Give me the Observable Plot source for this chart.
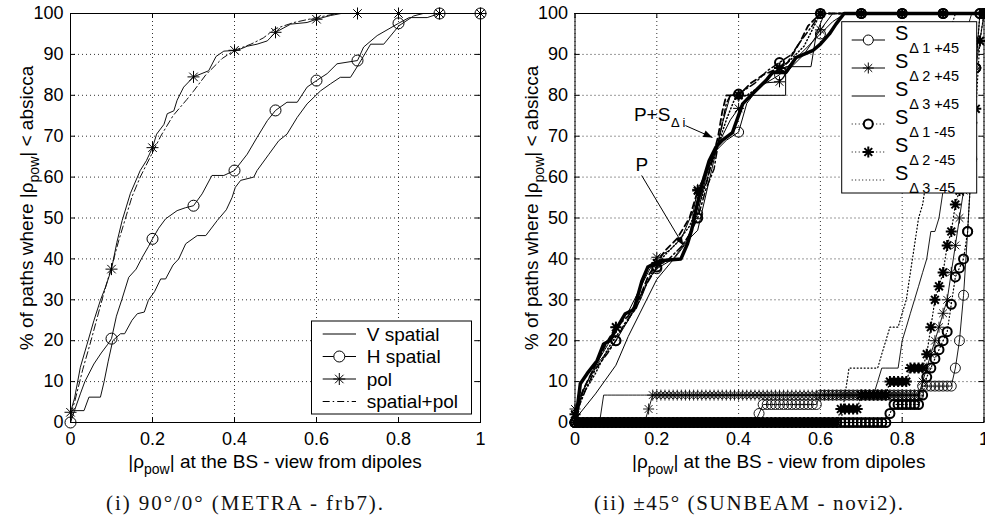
<!DOCTYPE html>
<html><head><meta charset="utf-8">
<script src="https://cdn.jsdelivr.net/npm/d3@7"></script>
<script src="https://cdn.jsdelivr.net/npm/@observablehq/plot@0.6"></script>
<style>
body{margin:0;background:#fff;}
#wrap{position:relative;width:985px;height:525px;overflow:hidden;background:#fff;}
#wrap svg{position:absolute;top:0;overflow:visible;}
</style></head><body><div id="wrap"></div>
<script>
// ================= DATA =================
const xTicks = [0, 0.2, 0.4, 0.6, 0.8, 1];
const yTicks = [0, 10, 20, 30, 40, 50, 60, 70, 80, 90, 100];
const markerRho = [0, 0.1, 0.2, 0.3, 0.4, 0.5, 0.6, 0.7, 0.8, 0.9, 1];

// ---- panel (i) ----
const vSpatial = [[0,0],[0.004,2.9],[0.033,2.9],[0.045,6.2],[0.073,6.2],[0.082,10],[0.092,15],[0.103,20],[0.122,21.7],[0.132,21.7],[0.15,25],[0.163,26.6],[0.18,27],[0.19,29.9],[0.205,32],[0.22,35.1],[0.232,35.1],[0.25,38.5],[0.264,40],[0.281,43.7],[0.309,45.7],[0.33,45.7],[0.358,49.4],[0.38,52],[0.394,55],[0.402,57.5],[0.415,59.2],[0.447,60],[0.455,61.6],[0.484,65.6],[0.508,68.9],[0.528,70.5],[0.553,74.6],[0.577,77.9],[0.61,81.1],[0.634,82.8],[0.658,84.4],[0.683,84.4],[0.703,87.6],[0.732,92.5],[0.764,92.5],[0.801,97],[0.837,99.4],[0.86,100],[1,100]];
const hSpatial = [[0,0],[0.01,3],[0.024,7],[0.035,10],[0.057,14.3],[0.075,17],[0.09,19],[0.1,20.5],[0.112,26],[0.125,30],[0.142,35.5],[0.16,37.5],[0.175,40.4],[0.19,43],[0.2,44.9],[0.215,47.5],[0.232,49.8],[0.26,51.8],[0.28,52.5],[0.3,53],[0.321,55.9],[0.345,60.4],[0.374,60.4],[0.4,61.6],[0.431,65.6],[0.455,69.7],[0.48,73.8],[0.5,76.3],[0.528,78.3],[0.553,78.3],[0.577,82],[0.6,83.6],[0.626,85.3],[0.65,87.7],[0.7,88.5],[0.715,91.8],[0.748,94.6],[0.8,97.6],[0.826,99],[0.87,99],[0.9,100],[1,100]];
const hSpatialMarks = [0, 20.5, 44.9, 53, 61.6, 76.3, 83.6, 88.5, 97.6, 100, 100];
const pol = [[0,2.5],[0.01,6],[0.024,13.5],[0.04,19],[0.057,24.9],[0.073,29.9],[0.085,33],[0.1,37.5],[0.113,44],[0.126,49.4],[0.146,56],[0.17,61.6],[0.185,64],[0.2,67.2],[0.21,70.5],[0.228,72.9],[0.236,75.5],[0.252,76.2],[0.26,78.8],[0.276,82],[0.3,84.5],[0.337,86],[0.355,89.5],[0.374,90.8],[0.407,91],[0.431,92],[0.455,92.5],[0.48,93.3],[0.5,95.4],[0.537,97.4],[0.577,97.8],[0.6,98.6],[0.634,99.5],[0.66,100],[1,100]];
const polMarks = [2.5, 37.5, 67.2, 84.5, 91, 95.4, 98.6, 100, 100, 100, 100];
const spatialPol = [[0,2],[0.01,5],[0.03,13],[0.05,20],[0.081,31.5],[0.1,38],[0.118,44.6],[0.15,55.2],[0.17,60],[0.195,65],[0.22,70],[0.25,75],[0.284,79],[0.3,81],[0.33,85],[0.37,89],[0.4,91],[0.44,92.5],[0.47,94],[0.5,96.3],[0.545,97.8],[0.6,99],[0.65,100],[1,100]];
const legendLeftLabels = ["V spatial", "H spatial", "pol", "spatial+pol"];

// ---- panel (ii) ----
const rhoGrid = [0,0.01,0.02,0.03,0.04,0.05,0.06,0.07,0.08,0.09,
 0.1,0.11,0.12,0.13,0.14,0.15,0.16,0.17,0.18,0.19,
 0.2,0.21,0.22,0.23,0.24,0.25,0.26,0.27,0.28,0.29,
 0.3,0.31,0.32,0.33,0.34,0.35,0.36,0.37,0.38,0.39,
 0.4,0.41,0.42,0.43,0.44,0.45,0.46,0.47,0.48,0.49,
 0.5,0.51,0.52,0.53,0.54,0.55,0.56,0.57,0.58,0.59,
 0.6,0.61,0.62,0.63,0.64,0.65,0.66,0.67,0.68,0.69,
 0.7,0.71,0.72,0.73,0.74,0.75,0.76,0.77,0.78,0.79,
 0.8,0.81,0.82,0.83,0.84,0.85,0.86,0.87,0.88,0.89,
 0.9,0.91,0.92,0.93,0.94,0.95,0.96,0.97,0.98,0.99,1];
const sD1p45 = [0,0,0,0,0,0,0,0,0,0, 0,0,0,0,0,0,0,0,0,0, 0,0,0,0,0,0,0,0,0,0, 0,0,0,0,0,0,0,0,0,0,
 0,0,0,0,0,2.2,4.4,4.4,4.4,4.4, 4.4,4.4,4.4,4.4,4.4,4.4,4.4,4.4,4.4,4.4,
 6.7,6.7,6.7,6.7,6.7,6.7,6.7,6.7,6.7,6.7, 6.7,6.7,6.7,6.7,6.7,6.7,6.7,6.7,6.7,6.7,
 6.7,6.7,6.7,6.7,6.7,8.9,8.9,8.9,8.9,8.9, 8.9,8.9,8.9,13.3,20,31.1,46.7,64.4,86.7,100, 100];
const sD2p45 = [0,0,0,0,0,0,0,0,0,0, 0,0,0,0,0,0,0,0,3.3,6.7,
 6.7,6.7,6.7,6.7,6.7,6.7,6.7,6.7,6.7,6.7, 6.7,6.7,6.7,6.7,6.7,6.7,6.7,6.7,6.7,6.7,
 6.7,6.7,6.7,6.7,6.7,6.7,6.7,6.7,6.7,6.7, 6.7,6.7,6.7,6.7,6.7,6.7,6.7,6.7,6.7,6.7,
 6.7,6.7,6.7,6.7,6.7,6.7,6.7,6.7,6.7,6.7, 6.7,6.7,6.7,6.7,6.7,6.7,6.7,6.7,6.7,6.7,
 6.7,6.7,6.7,6.7,6.7,10,13.3,16.7,20,23.3, 26.7,30,36.7,43.3,50,56.7,63.3,73.3,86.7,93.3, 100];
const sD3p45 = [0,0,0,0,0,0,0,6.7,6.7,6.7, 6.7,6.7,6.7,6.7,6.7,6.7,6.7,6.7,6.7,6.7,
 6.7,6.7,6.7,6.7,6.7,6.7,6.7,6.7,6.7,6.7, 6.7,6.7,6.7,6.7,6.7,6.7,6.7,6.7,6.7,6.7,
 6.7,6.7,6.7,6.7,6.7,6.7,6.7,6.7,6.7,6.7, 6.7,6.7,6.7,6.7,6.7,6.7,6.7,6.7,6.7,6.7,
 6.7,6.7,6.7,6.7,6.7,6.7,6.7,6.7,6.7,6.7, 6.7,6.7,6.7,6.7,10,13.3,13.3,13.3,13.3,13.3,
 20,23.3,26.7,30,33.3,36.7,40,46.7,46.7,50, 56.7,66.7,76.7,83.3,90,93.3,96.7,100,100,100, 100];
const sD1m45 = [0,0,0,0,0,0,0,0,0,0, 0,0,0,0,0,0,0,0,0,0, 0,0,0,0,0,0,0,0,0,0, 0,0,0,0,0,0,0,0,0,0,
 0,0,0,0,0,0,0,0,0,0, 0,0,0,0,0,0,0,0,0,0, 0,0,0,0,0,0,0,0,0,0,
 0,0,0,0,0,0,0,2.2,4.4,4.4, 4.4,4.4,4.4,4.4,4.4,6.7,11.1,13.3,15.6,17.8,
 20,22.2,28.9,35.6,37.8,40,46.7,64.4,86.7,100, 100];
const sD2m45 = [0,0,0,0,0,0,0,0,0,0, 0,0,0,0,0,0,0,0,0,0, 0,0,0,0,0,0,0,0,0,0, 0,0,0,0,0,0,0,0,0,0,
 0,0,0,0,0,0,0,0,0,0, 0,0,0,0,0,0,0,0,0,0, 0,0,0,0,0,3.3,3.3,3.3,3.3,3.3,
 6.7,6.7,6.7,6.7,6.7,6.7,6.7,10,10,10, 10,10,13.3,13.3,13.3,13.3,16.7,23.3,30,33.3,
 36.7,43.3,46.7,53.3,56.7,60,66.7,73.3,76.7,93.3, 100];
const sD3m45 = [0,0,0,0,0,0,0,0,0,0, 0,0,0,0,0,0,0,0,0,0, 0,0,0,0,0,0,0,0,0,0, 0,0,0,0,0,0,0,0,0,0,
 0,0,0,0,0,0,0,0,0,0, 0,0,0,0,0,0,0,0,0,0, 0,0,0,0,0,0,6.7,13.3,13.3,13.3,
 13.3,13.3,13.3,13.3,13.3,16.7,20,23.3,23.3,23.3, 26.7,30,36.7,43.3,50,53.3,60,66.7,73.3,80,
 86.7,93.3,96.7,100,100,100,100,100,100,100, 100];

const pOnly = [[0,0],[0.005,3],[0.013,9.5],[0.03,12],[0.054,15.1],[0.07,19.2],[0.085,20],[0.099,22.5],[0.123,26.6],[0.144,27.6],[0.164,34.7],[0.178,38],[0.193,38.8],[0.215,39.6],[0.259,40],[0.275,43.7],[0.285,47],[0.298,53],[0.31,58],[0.328,64],[0.345,67.4],[0.36,69],[0.385,70.9],[0.41,77.9],[0.434,80.4],[0.467,83.6],[0.483,85.6],[0.516,85.6],[0.54,89.2],[0.581,90.9],[0.6,92.5],[0.622,95],[0.638,97.4],[0.658,100],[1,100]];
const pS1p45 = [[0,0],[0.01,5],[0.03,10],[0.06,15],[0.1,20],[0.13,25],[0.16,30],[0.18,35],[0.2,37.6],[0.24,40],[0.27,44],[0.3,51],[0.32,60],[0.34,66],[0.37,69],[0.4,71],[0.42,78],[0.45,82],[0.5,85],[0.55,90],[0.58,93],[0.6,95],[0.63,98],[0.66,100],[1,100]];
const pS1p45Marks = [0, 20, 37.6, 51, 71, 85, 95, 100, 100, 100, 100];
const pS2p45 = [[0,3.3],[0.02,8],[0.05,14],[0.08,19],[0.1,23.3],[0.13,27],[0.16,33],[0.18,37],[0.2,40.4],[0.23,42],[0.26,45],[0.29,52],[0.3,57],[0.33,63],[0.36,70],[0.38,74],[0.4,76.8],[0.43,80],[0.46,83],[0.5,83.3],[0.53,87],[0.56,90],[0.6,96],[0.63,100],[1,100]];
const pS2p45Marks = [3.3, 23.3, 40.4, 57, 76.8, 83.3, 96, 100, 100, 100, 100];
const pS3p45 = [[0,0],[0.01,2],[0.05,7],[0.1,14],[0.13,21],[0.16,27],[0.2,35],[0.25,41],[0.28,45],[0.3,47],[0.33,60],[0.36,73],[0.38,80],[0.515,80],[0.515,87],[0.577,87],[0.59,95],[0.61,100],[1,100]];
const pS1m45 = [[0,0],[0.01,4],[0.03,9],[0.05,13],[0.08,17],[0.1,20],[0.12,24],[0.15,28],[0.17,33],[0.2,38],[0.23,40],[0.26,43],[0.28,46],[0.3,50],[0.32,57],[0.34,62],[0.35,68],[0.36,73],[0.37,78],[0.38,80],[0.41,81],[0.44,83],[0.47,86],[0.5,88],[0.53,90],[0.55,93],[0.58,97],[0.6,100],[1,100]];
const pS1m45Marks = [0, 20, 38, 50, 80.3, 88, 100, 100, 100, 100, 100];
const pS2m45 = [[0,2],[0.02,8],[0.05,14],[0.08,20],[0.1,23.3],[0.13,26],[0.16,31],[0.18,36],[0.2,39],[0.22,42],[0.25,45],[0.28,50],[0.3,56.7],[0.32,58],[0.33,62],[0.35,70],[0.36,76],[0.37,80],[0.4,80],[0.43,83],[0.46,85],[0.5,86.7],[0.52,88],[0.55,93],[0.57,97],[0.6,100],[1,100]];
const pS2m45Marks = [2, 23.3, 39, 56.7, 80, 86.7, 100, 100, 100, 100, 100];
const pS3m45 = [[0,1],[0.02,7],[0.05,12],[0.08,18],[0.1,21],[0.13,25],[0.16,31],[0.19,37],[0.22,41],[0.25,44],[0.28,48],[0.31,55],[0.33,62],[0.35,68],[0.37,74],[0.39,79],[0.42,80],[0.45,82],[0.48,85],[0.52,88],[0.56,92],[0.58,96],[0.6,100],[1,100]];

const annoLabels = [{label: "P+S", sub: "Δ i", x: 0.144, y: 73.8}, {label: "P", sub: "", x: 0.148, y: 61.6}];
const annoArrows = [{x1: 0.27, y1: 72.6, x2: 0.336, y2: 69.7}, {x1: 0.163, y1: 60.4, x2: 0.265, y2: 43.3}];
const legendRightIdx = ["1", "2", "3", "1", "2", "3"];
const legendRightPol = ["+45", "+45", "+45", "-45", "-45", "-45"];

const captionLeft = "(i) 90°/0° (METRA - frb7).";
const captionRight = "(ii) ±45° (SUNBEAM - novi2).";

// ================= HELPERS =================
const FONT = "'Liberation Sans', Arial, Helvetica, sans-serif";
const SERIF = "'Liberation Serif', 'Times New Roman', serif";
const asterisk8 = {draw(ctx, size) {
  const r = Math.sqrt(size / Math.PI), d = r * Math.SQRT1_2;
  ctx.moveTo(-r, 0); ctx.lineTo(r, 0); ctx.moveTo(0, -r); ctx.lineTo(0, r);
  ctx.moveTo(-d, -d); ctx.lineTo(d, d); ctx.moveTo(-d, d); ctx.lineTo(d, -d);
}};
function arrowHead(color) {
  const m = d3.create("svg:marker").attr("viewBox", "-10 -5 11 10").attr("markerWidth", 11).attr("markerHeight", 10)
    .attr("markerUnits", "userSpaceOnUse").attr("orient", "auto").attr("refX", 0).attr("refY", 0)
    .attr("fill", color).attr("stroke", "none");
  m.append("path").attr("d", "M-9,-3.5L0,0L-9,3.5Z");
  return m.node();
}
const tuples = a => a.map(([x, y]) => ({x, y}));
const atMarkers = ys => markerRho.map((x, i) => ({x, y: ys[i]}));
const onGrid = ys => rhoGrid.map((x, i) => ({x, y: ys[i]}));

function frameMarks(innerW, innerH) {
  return [
    Plot.ruleX(xTicks, {stroke: "#000", strokeOpacity: 0.8, strokeDasharray: "1,3"}),
    Plot.ruleY(yTicks, {stroke: "#000", strokeOpacity: 0.8, strokeDasharray: "1,3"}),
    Plot.ruleX(xTicks, {insetTop: innerH - 5, stroke: "#000"}),
    Plot.ruleX(xTicks, {insetBottom: innerH - 5, stroke: "#000"}),
    Plot.ruleY(yTicks, {insetRight: innerW - 5, stroke: "#000"}),
    Plot.ruleY(yTicks, {insetLeft: innerW - 5, stroke: "#000"})
  ];
}
function baseOpts(ml, mr) {
  return {
    width: 490, height: 525, marginLeft: ml, marginRight: mr, marginTop: 13, marginBottom: 103,
    style: {fontFamily: FONT, fontSize: "18px", color: "#000", background: "none", overflow: "visible"},
    x: {domain: [0, 1], ticks: xTicks, tickFormat: d3.format("~g"), tickSize: 0, tickPadding: 10, label: null},
    y: {domain: [0, 100], ticks: yTicks, tickFormat: d3.format("~g"), tickSize: 0, tickPadding: 7, label: null}
  };
}
function addTitles(svg, frameLeft, frameCenter, caption, capX, capLen) {
  const t = svg.append("text").attr("x", frameCenter).attr("y", 468).attr("text-anchor", "middle")
    .attr("font-family", FONT).attr("font-size", 19).attr("fill", "#000");
  t.append("tspan").text("|ρ");
  t.append("tspan").attr("font-size", 14).attr("dy", 6).text("pow");
  t.append("tspan").attr("dy", -6).text("| at the BS - view from dipoles");
  const y = svg.append("text").attr("transform", `translate(${frameLeft - 37},208) rotate(-90)`).attr("text-anchor", "middle")
    .attr("font-family", FONT).attr("font-size", 19).attr("fill", "#000");
  y.append("tspan").text("% of paths where |ρ");
  y.append("tspan").attr("font-size", 14).attr("dy", 6).text("pow");
  y.append("tspan").attr("dy", -6).text("| < absicca");
  svg.append("text").attr("x", capX).attr("y", 510).attr("text-anchor", "middle")
    .attr("font-family", SERIF).attr("font-size", 21).attr("font-weight", "normal").attr("fill", "#111")
    .attr("textLength", capLen).attr("lengthAdjust", "spacing").text(caption);
}
function legendSym(g, type, x, y, r, sw) {
  if (type === "circle") g.append("circle").attr("cx", x).attr("cy", y).attr("r", r).attr("fill", "#fff").attr("stroke", "#000").attr("stroke-width", sw);
  if (type === "star") g.append("path").attr("transform", `translate(${x},${y})`).attr("d", d3.symbol(asterisk8, r * r * Math.PI)())
    .attr("fill", "none").attr("stroke", "#000").attr("stroke-width", sw);
}

const wrap = document.getElementById("wrap");

// ================= PANEL (i) =================
const plotL = Plot.plot({
  ...baseOpts(70, 10),
  marks: [
    ...frameMarks(410, 409),
    Plot.line(tuples(vSpatial), {x: "x", y: "y", stroke: "#111", strokeWidth: 1}),
    Plot.line(tuples(hSpatial), {x: "x", y: "y", stroke: "#111", strokeWidth: 1}),
    Plot.line(tuples(spatialPol), {x: "x", y: "y", stroke: "#111", strokeWidth: 1, strokeDasharray: "7,3,1.5,3"}),
    Plot.line(tuples(pol), {x: "x", y: "y", stroke: "#111", strokeWidth: 1}),
    Plot.dot(atMarkers(hSpatialMarks), {x: "x", y: "y", r: 5.5, stroke: "#000", fill: "none", strokeWidth: 1}),
    Plot.dot(atMarkers(polMarks), {x: "x", y: "y", r: 6, symbol: asterisk8, stroke: "#000", fill: "none", strokeWidth: 1}),
    Plot.frame({stroke: "#000", strokeWidth: 1})
  ]
});
plotL.style.left = "0px";
wrap.appendChild(plotL);
{
  const svg = d3.select(plotL);
  addTitles(svg, 70, 275, captionLeft, 244.5, 277);
  const g = svg.append("g").attr("text-anchor", "start");
  g.append("rect").attr("x", 311.5).attr("y", 321).attr("width", 160).attr("height", 93).attr("fill", "#fff").attr("stroke", "#000");
  const styles = [{dash: null, sym: null}, {dash: null, sym: "circle"}, {dash: null, sym: "star"}, {dash: "7,3,1.5,3", sym: null}];
  legendLeftLabels.forEach((lab, i) => {
    const yy = 334 + i * 22.5;
    const ln = g.append("line").attr("x1", 322.7).attr("x2", 356).attr("y1", yy).attr("y2", yy).attr("stroke", "#000").attr("stroke-width", 1);
    if (styles[i].dash) ln.attr("stroke-dasharray", styles[i].dash);
    if (styles[i].sym === "circle") legendSym(g, "circle", 339.3, yy, 5.5, 1);
    if (styles[i].sym === "star") legendSym(g, "star", 339.3, yy, 6, 1);
    g.append("text").attr("x", 366.7).attr("y", yy + 6.5).attr("text-anchor", "start").attr("font-family", FONT).attr("font-size", 19).attr("fill", "#000").text(lab);
  });
}

// ================= PANEL (ii) =================
const dotted = "1,2.5";
const plotR = Plot.plot({
  ...baseOpts(79.5, 1.5),
  marks: [
    ...frameMarks(409, 409),
    // S-delta curves
    Plot.line(onGrid(sD1p45), {x: "x", y: "y", stroke: "#000", strokeWidth: 0.9}),
    Plot.line(onGrid(sD2p45), {x: "x", y: "y", stroke: "#000", strokeWidth: 0.9}),
    Plot.line(onGrid(sD3p45), {x: "x", y: "y", stroke: "#000", strokeWidth: 0.9}),
    Plot.line(onGrid(sD1m45), {x: "x", y: "y", stroke: "#000", strokeWidth: 1.2, strokeDasharray: dotted}),
    Plot.line(onGrid(sD2m45), {x: "x", y: "y", stroke: "#000", strokeWidth: 1.2, strokeDasharray: dotted}),
    Plot.line(onGrid(sD3m45), {x: "x", y: "y", stroke: "#000", strokeWidth: 1.2, strokeDasharray: dotted}),
    Plot.dot(onGrid(sD1p45), {x: "x", y: "y", r: 5, stroke: "#000", fill: "none", strokeWidth: 0.9}),
    Plot.dot(onGrid(sD2p45), {x: "x", y: "y", r: 5.5, symbol: asterisk8, stroke: "#000", fill: "none", strokeWidth: 0.9}),
    Plot.dot(onGrid(sD1m45), {x: "x", y: "y", r: 4.5, stroke: "#000", fill: "none", strokeWidth: 2}),
    Plot.dot(onGrid(sD2m45), {x: "x", y: "y", r: 5.5, symbol: asterisk8, stroke: "#000", fill: "none", strokeWidth: 2}),
    // P and P+S-delta curves
    Plot.line(tuples(pS3m45), {x: "x", y: "y", stroke: "#000", strokeWidth: 1.5, strokeDasharray: dotted}),
    Plot.line(tuples(pS2m45), {x: "x", y: "y", stroke: "#000", strokeWidth: 1.8, strokeDasharray: "6,4"}),
    Plot.line(tuples(pS1m45), {x: "x", y: "y", stroke: "#000", strokeWidth: 1.5, strokeDasharray: "7,3,1.5,3"}),
    Plot.line(tuples(pS3p45), {x: "x", y: "y", stroke: "#000", strokeWidth: 1}),
    Plot.line(tuples(pS2p45), {x: "x", y: "y", stroke: "#000", strokeWidth: 1}),
    Plot.line(tuples(pS1p45), {x: "x", y: "y", stroke: "#000", strokeWidth: 1}),
    Plot.line(tuples(pOnly), {x: "x", y: "y", stroke: "#000", strokeWidth: 3.5, strokeLinejoin: "round"}),
    Plot.dot(atMarkers(pS1p45Marks), {x: "x", y: "y", r: 5, stroke: "#000", fill: "none", strokeWidth: 1}),
    Plot.dot(atMarkers(pS2p45Marks), {x: "x", y: "y", r: 5.5, symbol: asterisk8, stroke: "#000", fill: "none", strokeWidth: 1}),
    Plot.dot(atMarkers(pS1m45Marks), {x: "x", y: "y", r: 4.5, stroke: "#000", fill: "none", strokeWidth: 2}),
    Plot.dot(atMarkers(pS2m45Marks), {x: "x", y: "y", r: 5.5, symbol: asterisk8, stroke: "#000", fill: "none", strokeWidth: 2}),
    // annotations
    Plot.link(annoArrows, {x1: "x1", y1: "y1", x2: "x2", y2: "y2", stroke: "#000", strokeWidth: 1, markerEnd: arrowHead}),
    Plot.text(annoLabels, {x: "x", y: "y", text: "label", textAnchor: "start", lineAnchor: "bottom", fontSize: 19, fill: "#000"}),
    Plot.text(annoLabels, {x: "x", y: "y", text: "sub", textAnchor: "start", lineAnchor: "bottom", fontSize: 13, dx: 37, dy: 6, fill: "#000"}),
    Plot.frame({stroke: "#000", strokeWidth: 1})
  ]
});
plotR.style.left = "495px";
wrap.appendChild(plotR);
{
  const svg = d3.select(plotR);
  addTitles(svg, 79.5, 283.7, captionRight, 253.5, 309);
  const g = svg.append("g").attr("transform", "translate(-495,0)").attr("text-anchor", "start");
  g.append("rect").attr("x", 841.7).attr("y", 21.7).attr("width", 135).attr("height", 171.3).attr("fill", "#fff").attr("stroke", "#000");
  const styles = [
    {dash: null, sym: "circle", sw: 1, r: 5}, {dash: null, sym: "star", sw: 1, r: 5.5}, {dash: null, sym: null},
    {dash: dotted, sym: "circle", sw: 2, r: 4.5}, {dash: dotted, sym: "star", sw: 2, r: 5.5}, {dash: dotted, sym: null}
  ];
  legendRightIdx.forEach((idx, i) => {
    const yy = 40 + i * 28;
    const ln = g.append("line").attr("x1", 851.7).attr("x2", 885).attr("y1", yy).attr("y2", yy).attr("stroke", "#000").attr("stroke-width", styles[i].dash ? 1.2 : 1);
    if (styles[i].dash) ln.attr("stroke-dasharray", styles[i].dash);
    if (styles[i].sym) legendSym(g, styles[i].sym, 868.3, yy, styles[i].r, styles[i].sw);
    const t = g.append("text").attr("x", 895).attr("y", yy - 0.5).attr("text-anchor", "start").attr("font-family", FONT).attr("font-size", 20).attr("fill", "#000");
    t.append("tspan").text("S");
    t.append("tspan").attr("font-size", 14.5).attr("dy", 13).attr("dx", 1).text(`Δ ${idx} ${legendRightPol[i]}`);
  });
}
</script></body></html>
